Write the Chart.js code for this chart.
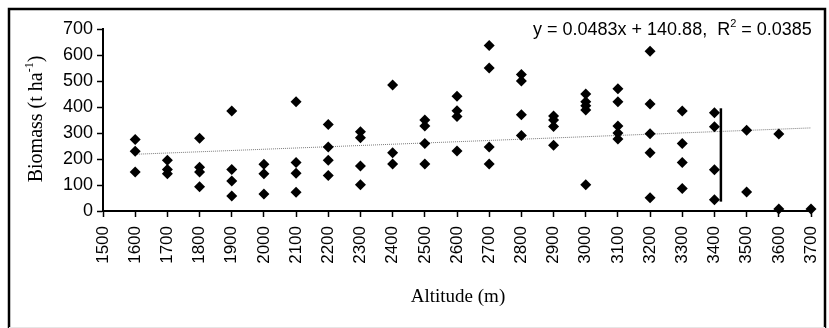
<!DOCTYPE html>
<html>
<head>
<meta charset="utf-8">
<script src="https://cdn.jsdelivr.net/npm/chart.js@4"></script>
<style>
  html, body { margin: 0; padding: 0; background: #fff; }
  #wrap { width: 829px; height: 328px; position: relative; }
</style>
</head>
<body>
<div id="wrap"><canvas id="myChart" width="829" height="328"></canvas></div>
<script>
// altitude classes (m) and biomass readings (t/ha) at each one
const altitudes = [1600, 1700, 1800, 1900, 2000, 2100, 2200, 2300, 2400, 2500, 2600,
                   2700, 2800, 2900, 3000, 3100, 3200, 3300, 3400, 3500, 3600, 3700];
const biomass = [
    [275, 230, 150],
    [195, 160, 143],
    [280, 168, 150, 93],
    [385, 160, 115, 58],
    [180, 143, 65],
    [420, 187, 145, 72],
    [333, 246, 195, 137],
    [305, 282, 173, 101],
    [485, 224, 181],
    [350, 327, 260, 181],
    [441, 386, 363, 231],
    [637, 550, 246, 181],
    [525, 500, 370, 290],
    [365, 350, 325, 253],
    [450, 420, 405, 388, 101],
    [470, 420, 327, 300, 277],
    [614, 412, 297, 224, 51],
    [385, 260, 187, 87],
    [378, 324, 159, 43],
    [311, 73],
    [296, 8],
    [8]
];
// the vertical bar near 3400 m
const barX = [3420, 3420];
const barY = [36, 395];
// fitted trend
const slope = 0.0483;
const intercept = 140.88;
const trendX = [1600, 3700];
const xTicks = [1500, 3700, 100];
const yTicks = [0, 700, 100];

var points = [];
altitudes.forEach(function(a, i) {
    biomass[i].forEach(function(v) { points.push({ x: a, y: v }); });
});

var SANS = '"Liberation Sans", Arial, sans-serif';
var SERIF = '"Liberation Serif", "Times New Roman", serif';

var frame = {
    id: 'frame',
    afterDraw: function(chart) {
        var c = chart.ctx;
        c.save();
        // outer box (open at the bottom)
        c.strokeStyle = '#000';
        c.lineWidth = 2.5;
        c.beginPath();
        c.moveTo(9, 330); c.lineTo(9, 9); c.lineTo(825, 9); c.lineTo(825, 330);
        c.stroke();
        c.strokeStyle = '#e6e6e6';
        c.lineWidth = 1;
        c.beginPath(); c.moveTo(9, 327.5); c.lineTo(825, 327.5); c.stroke();

        c.fillStyle = '#000';
        // equation
        c.font = '18px ' + SANS;
        c.textBaseline = 'alphabetic';
        c.textAlign = 'left';
        var eq1 = 'y = 0.0483x + 140.88,  R';
        var x0 = 533, y0 = 35;
        c.fillText(eq1, x0, y0);
        var w1 = c.measureText(eq1).width;
        c.font = '11px ' + SANS;
        c.fillText('2', x0 + w1, y0 - 8);
        var w2 = c.measureText('2').width;
        c.font = '18px ' + SANS;
        c.fillText(' = 0.0385', x0 + w1 + w2, y0);

        // x axis title
        c.font = '19px ' + SERIF;
        c.textAlign = 'center';
        c.textBaseline = 'middle';
        c.fillText('Altitude (m)', 458, 297);

        // y axis title, rotated
        c.translate(37, 119);
        c.rotate(-Math.PI / 2);
        c.font = '20px ' + SERIF;
        var t1 = 'Biomass (t ha';
        var tw1 = c.measureText(t1).width;
        c.font = '12px ' + SERIF;
        var tw2 = c.measureText('-1').width;
        c.font = '20px ' + SERIF;
        var tw3 = c.measureText(')').width;
        var sx = -(tw1 + tw2 + tw3) / 2;
        c.textAlign = 'left';
        c.fillText(t1, sx, 0);
        c.font = '12px ' + SERIF;
        c.fillText('-1', sx + tw1, -7);
        c.font = '20px ' + SERIF;
        c.fillText(')', sx + tw1 + tw2, 0);
        c.restore();
    }
};

var ctx = document.getElementById('myChart').getContext('2d');
var myChart = new Chart(ctx, {
    type: 'scatter',
    data: {
        datasets: [{
            label: 'Biomass',
            data: points,
            pointStyle: 'rectRot',
            pointRadius: 5.5,
            pointBackgroundColor: '#000',
            pointBorderColor: '#000',
            pointBorderWidth: 0,
            clip: false,
            order: 1
        }, {
            type: 'line',
            label: 'Trend',
            data: trendX.map(x => ({ x: x, y: slope * x + intercept })),
            borderColor: 'rgba(110,110,110,0.9)',
            borderWidth: 1,
            borderDash: [1, 1],
            pointRadius: 0,
            fill: false,
            order: 2
        }, {
            type: 'line',
            label: 'Bar',
            data: barX.map((x, i) => ({ x: x, y: barY[i] })),
            borderColor: '#000',
            borderWidth: 2.5,
            pointRadius: 0,
            fill: false,
            order: 0
        }]
    },
    options: {
        responsive: false,
        animation: false,
        layout: {
            padding: { top: 29, right: 18, left: 0, bottom: 0 }
        },
        plugins: {
            legend: { display: false },
            tooltip: { enabled: false }
        },
        scales: {
            x: {
                type: 'linear',
                min: xTicks[0],
                max: xTicks[1],
                afterFit: function(s) {
                    s.height = 117;
                    s.paddingLeft = 0;
                    s.paddingRight = 0;
                },
                ticks: {
                    stepSize: xTicks[2],
                    minRotation: 90,
                    maxRotation: 90,
                    color: '#000',
                    padding: 9,
                    callback: function(v) { return String(v); },
                    font: { family: SANS, size: 17 }
                },
                grid: {
                    drawOnChartArea: false,
                    tickLength: 6,
                    tickColor: '#000',
                    tickWidth: 1.5
                },
                border: { color: '#000', width: 2 }
            },
            y: {
                min: yTicks[0],
                max: yTicks[1],
                afterFit: function(s) { s.width = 103; },
                ticks: {
                    stepSize: yTicks[2],
                    color: '#000',
                    padding: 4,
                    font: { family: SANS, size: 18 }
                },
                grid: {
                    drawOnChartArea: false,
                    tickLength: 6,
                    tickColor: '#000',
                    tickWidth: 1.5
                },
                border: { color: '#000', width: 2 }
            }
        }
    },
    plugins: [frame]
});
</script>
</body>
</html>
